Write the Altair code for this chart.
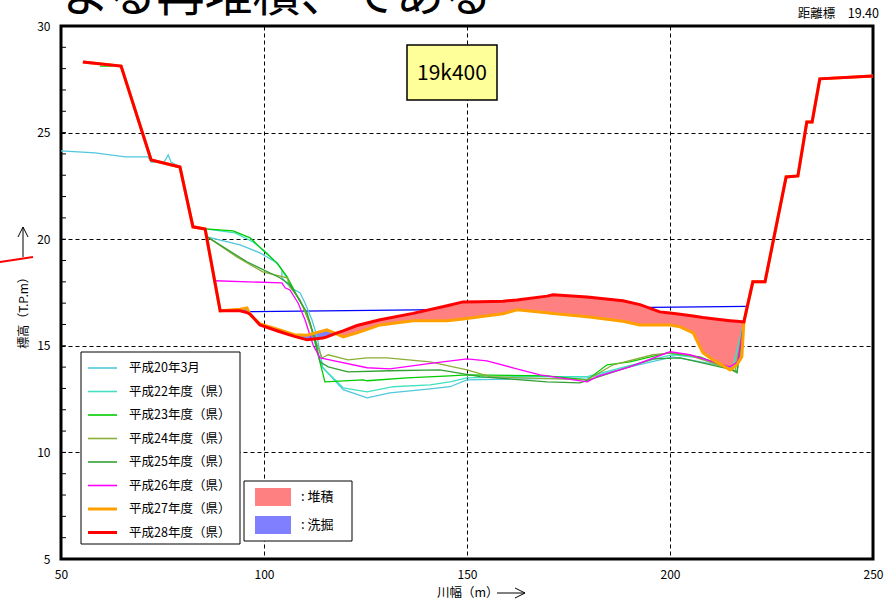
import altair as alt
import pandas as pd

FONT = "Noto Sans CJK JP"

# ---- survey series -------------------------------------------------------
SERIES = ["平成20年3月", "平成22年度（県）", "平成23年度（県）", "平成24年度（県）",
          "平成25年度（県）", "平成26年度（県）", "平成27年度（県）", "平成28年度（県）"]
COLORS = ["#50C8DC", "#40E0C0", "#00CC00", "#8AAE38", "#33A033", "#FF00FF", "#FFA000", "#FF0000"]
WIDTHS = [1.3, 1.3, 1.3, 1.3, 1.3, 1.3, 3.0, 3.0]

# left / right banks (shared by most surveys)
bank_left_x = [55.4, 64.8, 72.2, 79.3, 82.5, 85.5]
bank_left_y = [28.31, 28.12, 23.72, 23.39, 20.58, 20.48]
bank_right_x = [218.2, 220.4, 223.4, 228.6, 231.5, 233.7, 235.0, 236.9, 250.0]
bank_right_y = [16.12, 18.00, 18.00, 22.92, 22.97, 25.50, 25.50, 27.52, 27.66]

# H27 / H28 channel bed, read at common stations
ch_x = [89.2, 94.1, 95.8, 96.6, 99.0, 103.9, 107.5, 110.6, 114.5, 115.5, 118.0, 119.5,
        122.9, 128.6, 136.7, 145.1, 149.0, 153.2, 158.9, 162.3, 169.7, 171.2, 179.6,
        188.4, 192.6, 197.5, 200.0, 202.5, 205.7, 208.1, 210.6, 214.8, 216.5, 217.7, 218.2]
ch_h28 = [16.64, 16.64, 16.56, 16.48, 15.98, 15.66, 15.44, 15.28, 15.37, 15.42, 15.61, 15.70,
          15.95, 16.22, 16.52, 16.88, 17.06, 17.07, 17.09, 17.15, 17.33, 17.39, 17.29,
          17.11, 16.93, 16.59, 16.54, 16.48, 16.40, 16.33, 16.27, 16.18, 16.15, 16.13, 16.12]
ch_h27 = [16.64, 16.72, 16.78, 16.45, 16.03, 15.75, 15.52, 15.50, 15.70, 15.75, 15.55, 15.42,
          15.61, 15.98, 16.17, 16.17, 16.26, 16.36, 16.50, 16.69, 16.55, 16.52, 16.36,
          16.15, 15.98, 15.98, 15.98, 15.89, 15.61, 14.67, 14.34, 13.87, 14.11, 14.48, 16.12]

# older surveys: channel portion
h20_left_x = [50.0, 58.4, 65.8, 71.4, 72.2, 75.4, 76.4, 77.1, 79.3, 82.5, 85.5]
h20_left_y = [24.14, 24.05, 23.86, 23.86, 23.62, 23.62, 23.95, 23.62, 23.39, 20.58, 20.48]
h20_x = [86.0, 94.1, 99.0, 103.2, 104.4, 104.4, 106.4, 108.9, 110.1, 111.8, 113.1, 114.5,
         119.5, 125.4, 131.0, 140.9, 145.8, 150.0, 179.6, 190.1, 200.7, 215.5]
h20_y = [20.11, 19.73, 19.36, 18.89, 18.56, 18.19, 17.76, 17.48, 17.01, 16.22, 15.42, 13.97,
         12.94, 12.56, 12.79, 12.98, 13.08, 13.40, 13.50, 14.01, 14.48, 13.97]

h22_x = [92.9, 97.3, 100.7, 103.9, 106.4, 108.4, 110.1, 111.8, 113.3, 114.3, 119.5, 125.4,
         131.8, 140.9, 145.8, 150.0, 161.3, 179.6, 186.0, 198.3, 200.7, 207.4, 215.5]
h22_y = [20.30, 19.87, 19.36, 18.70, 17.95, 17.25, 16.69, 15.75, 14.58, 14.01, 13.03, 12.84,
         13.08, 13.17, 13.31, 13.50, 13.55, 13.55, 13.87, 14.48, 14.58, 14.43, 13.97]

h23_start_x = [59.6]
h23_start_y = [28.12]
h23_x = [92.4, 96.6, 100.2, 103.2, 105.7, 107.6, 109.6, 111.3, 112.6, 115.0, 124.4, 125.4,
         135.2, 145.8, 150.0, 169.7, 179.6, 184.5, 190.1, 199.3, 207.4, 216.5]
h23_y = [20.39, 20.06, 19.40, 18.89, 18.23, 17.53, 16.83, 16.08, 15.14, 13.31, 13.40, 13.36,
         13.50, 13.59, 13.64, 13.59, 13.40, 14.11, 14.25, 14.67, 14.48, 13.78]

h24_x = [86.0, 93.3, 99.7, 105.7, 106.4, 108.9, 110.6, 113.1, 114.3, 115.8, 120.7, 125.4,
         130.3, 140.9, 150.0, 155.7, 179.6, 186.0, 195.8, 200.7, 204.2, 214.8, 216.0]
h24_y = [20.11, 19.17, 18.47, 18.19, 17.76, 17.15, 16.36, 15.04, 14.43, 14.58, 14.34, 14.43,
         14.43, 14.25, 13.87, 13.55, 13.40, 14.11, 14.58, 14.67, 14.58, 13.92, 13.78]

h25_x = [86.0, 95.8, 103.9, 106.4, 108.4, 110.6, 112.6, 113.8, 115.8, 120.7, 131.0, 143.3,
         153.2, 169.7, 177.8, 187.7, 195.8, 202.5, 215.5, 216.5]
h25_y = [20.11, 18.94, 18.19, 17.86, 17.25, 16.55, 15.28, 14.25, 14.01, 13.78, 13.83, 13.87,
         13.55, 13.31, 13.26, 13.87, 14.39, 14.43, 13.87, 13.73]

h26_x = [87.9, 104.4, 105.2, 106.4, 108.4, 110.1, 112.1, 113.8, 115.0, 125.4, 131.0, 140.1,
         150.0, 154.9, 161.3, 168.0, 179.6, 182.0, 190.1, 200.0, 204.9, 214.8, 216.7]
h26_y = [18.05, 17.95, 17.72, 17.62, 17.01, 16.22, 15.04, 14.43, 14.39, 13.97, 13.92, 14.15,
         14.39, 14.29, 13.97, 13.64, 13.31, 13.55, 14.01, 14.72, 14.58, 14.01, 14.25]

# water level line
wl_x = [94.8, 219.0]
wl_y = [16.60, 16.85]

# axis values
X_TICKS = [50, 100, 150, 200, 250]
Y_TICKS = [5, 10, 15, 20, 25, 30]
Y_MINOR = list(range(5, 31))

STATION = "19k400"
DIST_LABEL = "距離標　19.40"
HEADLINE = "よる再堆積、である"

# ---- build long table ----------------------------------------------------
profiles = {
    SERIES[0]: (h20_left_x + h20_x + bank_right_x, h20_left_y + h20_y + bank_right_y),
    SERIES[1]: (bank_left_x + h22_x + bank_right_x, bank_left_y + h22_y + bank_right_y),
    SERIES[2]: (h23_start_x + bank_left_x[1:] + h23_x + bank_right_x,
                h23_start_y + bank_left_y[1:] + h23_y + bank_right_y),
    SERIES[3]: (bank_left_x + h24_x + bank_right_x, bank_left_y + h24_y + bank_right_y),
    SERIES[4]: (bank_left_x + h25_x + bank_right_x, bank_left_y + h25_y + bank_right_y),
    SERIES[5]: (h26_x + bank_right_x, h26_y + bank_right_y),
    SERIES[6]: (bank_left_x + ch_x[:-1] + bank_right_x, bank_left_y + ch_h27[:-1] + bank_right_y),
    SERIES[7]: (bank_left_x + ch_x[:-1] + bank_right_x, bank_left_y + ch_h28[:-1] + bank_right_y),
}
rows = []
for name, (xs, ys) in profiles.items():
    for i, (x, y) in enumerate(zip(xs, ys)):
        rows.append({"series": name, "x": x, "y": y, "i": i})
df = pd.DataFrame(rows)
df_thin = df[df.series.isin(SERIES[:6])]
df_h27 = df[df.series == SERIES[6]]
df_h28 = df[df.series == SERIES[7]]

ch = pd.DataFrame({"x": ch_x, "h28": ch_h28, "h27": ch_h27})
wl = pd.DataFrame({"x": wl_x, "y": wl_y})
minor = pd.DataFrame({"t": Y_MINOR})
one = pd.DataFrame({"k": [0]})

# ---- scales / axes -------------------------------------------------------
xs = alt.Scale(domain=[50, 250], nice=False, zero=False)
ys = alt.Scale(domain=[5, 30], nice=False, zero=False)
grid_common = dict(ticks=False, domain=False, grid=True, gridDash=[4, 3], gridColor="black",
                   gridOpacity=1, gridWidth=1, labelFont=FONT, labelFontSize=12,
                   labelColor="black", title=None, labelOverlap=False)
xaxis = alt.Axis(values=X_TICKS, labelPadding=10, labelFlush=False, **grid_common)
yaxis = alt.Axis(values=Y_TICKS, labelPadding=11, **grid_common)


def X(field):
    return alt.X(field, type="quantitative", scale=xs, axis=xaxis)


def Y(field):
    return alt.Y(field, type="quantitative", scale=ys, axis=yaxis)


layers = []

# water level
layers.append(alt.Chart(wl).mark_line(color="#0000FF", strokeWidth=1.2).encode(x=X("x"), y=Y("y")))

# deposition (red) and scour (blue) between H27 and H28 beds
layers.append(
    alt.Chart(ch).transform_calculate(top="max(datum.h28, datum.h27)")
    .mark_area(color="#FF8080", opacity=1)
    .encode(x=X("x"), y=Y("top"), y2="h27")
)
layers.append(
    alt.Chart(ch).transform_calculate(bot="min(datum.h28, datum.h27)")
    .mark_area(color="#8080FF", opacity=1)
    .encode(x=X("x"), y=Y("h27"), y2="bot")
)

# inner minor ticks on left axis
layers.append(
    alt.Chart(minor).mark_rule(color="black", strokeWidth=1)
    .encode(y=Y("t"), x=alt.value(0), x2=alt.value(5))
)

# older survey lines
layers.append(
    alt.Chart(df_thin).mark_line(strokeWidth=1.3)
    .encode(x=X("x"), y=Y("y"), order="i:Q",
            color=alt.Color("series:N", scale=alt.Scale(domain=SERIES, range=COLORS), legend=None))
)
layers.append(
    alt.Chart(df_h27).mark_line(color=COLORS[6], strokeWidth=3)
    .encode(x=X("x"), y=Y("y"), order="i:Q")
)
layers.append(
    alt.Chart(df_h28).mark_line(color=COLORS[7], strokeWidth=3)
    .encode(x=X("x"), y=Y("y"), order="i:Q")
)


def rule(x1, y1, x2, y2, color="black", w=1.0):
    return alt.Chart(one).mark_rule(color=color, strokeWidth=w).encode(
        x=alt.value(x1), y=alt.value(y1), x2=alt.value(x2), y2=alt.value(y2))


def rect(x1, y1, x2, y2, fill, stroke=None, w=1.0):
    kw = dict(fill=fill)
    if stroke:
        kw.update(stroke=stroke, strokeWidth=w)
    return alt.Chart(one).mark_rect(**kw).encode(
        x=alt.value(x1), y=alt.value(y1), x2=alt.value(x2), y2=alt.value(y2))


def text(s, x, y, size=12, align="left", baseline="middle", angle=0, font=FONT):
    return alt.Chart(one).mark_text(text=s, align=align, baseline=baseline, fontSize=size,
                                    font=font, color="black", angle=angle).encode(
        x=alt.value(x), y=alt.value(y))


# series legend
layers.append(rect(20, 326, 179, 518, "white", "black", 1))
for k, (name, col, w) in enumerate(zip(SERIES, COLORS, WIDTHS)):
    yy = 342 + 23.5 * k
    layers.append(rule(27, yy, 56, yy, col, w if w > 2 else 1.6))
    layers.append(text(name, 68, yy, 12.5))

# fill legend
layers.append(rect(183, 455, 291, 515, "white", "black", 1))
layers.append(rect(194, 462, 230, 480, "#FF8080"))
layers.append(rect(194, 490, 230, 508, "#8080FF"))
layers.append(text(": 堆積", 240, 471, 13))
layers.append(text(": 洗掘", 240, 499, 13))

# station box
layers.append(rect(346, 19, 436, 74, "#FFFF99", "black", 1.5))
layers.append(text(STATION, 391, 48, 21, align="center"))

# axis titles and arrows
layers.append(text("標高（T.P.m）", -37, 284, 12, align="center", angle=270))
layers.append(rule(-38, 231, -38, 201))
layers.append(rule(-43, 211, -38, 201))
layers.append(rule(-33, 211, -38, 201))
layers.append(text("川幅（m）", 376, 567, 12.5))
layers.append(rule(436, 567, 464, 567))
layers.append(rule(454, 562, 464, 567))
layers.append(rule(454, 572, 464, 567))

# stray annotation stroke at left margin
layers.append(rule(-61, 236, -28, 231, "#FF0000", 2))

# top texts
layers.append(text(DIST_LABEL, 818, -12, 12.5, align="right"))
layers.append(text(HEADLINE, 1, -15, 48, baseline="alphabetic"))

chart = alt.layer(*layers).properties(
    width=812, height=533,
    autosize=alt.AutoSizeParams(type="none"),
    padding={"left": 61, "top": 26, "right": 20, "bottom": 43},
    background="white",
).configure_view(stroke="black", strokeWidth=3)

chart.save("out.html", embed_options={"renderer": "svg", "actions": False})
